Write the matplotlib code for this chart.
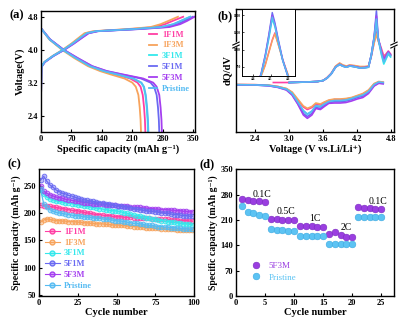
"""
Four panel electrochemistry figure: charge/discharge, dQ/dV, cycling and rate capability
"""
import matplotlib
matplotlib.use('Agg')
import matplotlib.pyplot as plt
from matplotlib.colors import to_rgba
from matplotlib.lines import Line2D

plt.rcParams['font.family'] = ['Liberation Serif', 'DejaVu Serif']
plt.rcParams['font.weight'] = 'bold'
plt.rcParams['axes.labelweight'] = 'bold'

SAMPLES = ['1F1M', '1F3M', '3F1M', '5F1M', '5F3M', 'Pristine']
COLORS = ['#ff3fa4', '#f7a35c', '#33e8ec', '#6a6af2', '#a53ff0', '#55bbf2']

# ---- (a) charge / discharge profiles ----
dis_volt = [4.52, 4.25, 4.0, 3.8, 3.6, 3.48, 3.4, 3.3, 3.2, 3.1, 2.9, 2.6, 2.3, 2.0]
dis_1f1m = [0, 20, 50, 80, 112, 142, 170, 205, 222, 229, 234, 237, 239, 240]
dis_1f3m = [0, 19, 48, 76, 108, 136, 160, 192, 210, 218, 224, 227, 229, 230]
dis_3f1m = [0, 20, 50, 80, 113, 145, 175, 212, 230, 236, 240, 243, 245, 246]
dis_5f1m = [0, 21, 52, 83, 117, 150, 185, 230, 252, 260, 266, 269, 271, 272]
dis_5f3m = [0, 21, 52, 84, 118, 152, 188, 235, 258, 266, 272, 275, 277, 278]
dis_prist = [0, 20, 50, 80, 113, 145, 176, 212, 231, 237, 241, 244, 246, 247]

chg_volt = [2.75, 3.58, 3.7, 3.85, 4.0, 4.15, 4.3, 4.4, 4.45, 4.5, 4.55, 4.62, 4.7, 4.8]
chg_1f1m = [0, 1, 8, 28, 52, 72, 90, 103, 125, 205, 262, 285, 303, 327]
chg_1f3m = [0, 1, 8, 27, 50, 70, 88, 100, 120, 198, 252, 275, 293, 315]
chg_3f1m = [0, 1, 8, 28, 52, 73, 92, 106, 128, 215, 278, 305, 322, 343]
chg_5f1m = [0, 1, 9, 29, 54, 75, 95, 108, 130, 220, 288, 314, 330, 349]
chg_5f3m = [0, 1, 9, 29, 54, 76, 96, 110, 132, 225, 295, 320, 336, 353]
chg_prist = [0, 1, 8, 28, 52, 73, 92, 105, 127, 213, 276, 304, 321, 343]

# ---- (b) dQ/dV (arbitrary units) ----
dqdv_dis_volt = [2.06, 2.4, 2.64, 2.8, 2.95, 3.05, 3.15, 3.25, 3.32, 3.4, 3.47, 3.55,
                 3.62, 3.7, 3.8, 3.9, 4.0, 4.1, 4.2, 4.3, 4.4, 4.5, 4.58, 4.66]
dqdv_dis_1f1m = [47.5, 47.3, 46.8, 45.5, 43.3, 39.5, 32, 25, 22.5, 24.5, 28, 27,
                 29.5, 31.5, 32.5, 32.5, 33, 34, 36, 38, 41.5, 48, 50, 49.5]
dqdv_dis_1f3m = [47.5, 47.3, 46.8, 45.5, 43.5, 40, 33, 26, 23.7, 25.5, 29, 28,
                 30, 32, 33, 33, 33.5, 34.5, 36.5, 38.5, 42, 48.5, 50.5, 50]
dqdv_dis_3f1m = [47.3, 47.1, 46.5, 45, 42.8, 38.5, 30, 21, 17.7, 20.5, 26, 25,
                 27.5, 30, 31, 31, 31.5, 33, 35, 36.5, 40, 47, 49.5, 49]
dqdv_dis_5f1m = [47.2, 47, 46.3, 44.8, 42.3, 37.5, 28.5, 18.5, 15.5, 18.5, 24.5, 23.5,
                 26.5, 29.5, 30.2, 30.2, 31, 32.5, 34.5, 36, 39.5, 46.5, 49, 48.5]
dqdv_dis_5f3m = [47.2, 47, 46.2, 44.6, 42, 37, 28, 17, 13.7, 17, 23.5, 22.5,
                 25.5, 28.7, 29, 29, 29.5, 31, 33, 34.5, 38.5, 46, 48.7, 48.2]
dqdv_dis_prist = [47.3, 47.1, 46.5, 45, 42.8, 38.5, 30, 21.5, 18, 21, 26.5, 25.5,
                  28, 30.5, 31.5, 31.5, 32, 33.5, 35.5, 37, 40.5, 47.5, 50, 49.5]

dqdv_chg_volt = [2.72, 3.0, 3.3, 3.5, 3.6, 3.67, 3.74, 3.82, 3.89, 3.95, 4.01, 4.07, 4.15,
                 4.25, 4.33, 4.4, 4.45, 4.5, 4.54, 4.57, 4.6, 4.63, 4.67, 4.71, 4.75, 4.79]
dqdv_chg_1f1m = [49.5, 49.5, 50, 50.5, 51.5, 54.5, 58.5, 65.5, 68.5, 66.5, 65.5, 66.8, 66,
                 65, 65, 65.5, 76, 90, 100, 92, 88, 83, 76, 78, 81, 78]
dqdv_chg_1f3m = [None, 49.5, 50, 50.5, 51.5, 54.5, 58.5, 66, 69, 67, 66, 67, 66.5,
                 65.5, 65.5, 66, 76, 89, 98, 91, 87, 81, 74, 77, 80, 77]
dqdv_chg_3f1m = [None, 49.5, 50, 50.5, 51.5, 54, 58, 65, 67.5, 65.8, 64.8, 66, 65.3,
                 64, 64.2, 64.8, 77, 94, 110, 94, 85, 77, 68, 73, 78, 75]
dqdv_chg_5f1m = [None, 49.5, 50, 50.5, 51.5, 54, 58, 65, 67.7, 66, 65, 66.3, 65.5,
                 64.3, 64.5, 65, 77, 95, 121, 95, 87, 80, 72, 76, 80, 77]
dqdv_chg_5f3m = [None, 49.5, 50, 50.5, 51.5, 54, 58, 65, 67.6, 65.9, 64.9, 66.2, 65.4,
                 64.2, 64.4, 65, 77, 95, 116, 94, 87, 80, 73, 76.5, 80, 77]
dqdv_chg_prist = [None, 49.5, 50, 50.5, 51.5, 54, 58, 65, 67.5, 65.8, 64.8, 66, 65.3,
                  64, 64.2, 64.8, 77, 94, 113, 94, 86, 78, 70, 74, 79, 76]

inset_volt = [4.40, 4.445, 4.47, 4.49, 4.51, 4.525, 4.545, 4.57, 4.60, 4.63]
inset_1f1m = [300, 560, 800, 1050, 1300, 1440, 1200, 900, 590, 300]
inset_1f3m = [300, 550, 780, 1030, 1280, 1420, 1190, 890, 600, 300]
inset_3f1m = [300, 570, 940, 1310, 1720, 1560, 1240, 870, 560, 300]
inset_5f1m = [300, 600, 1000, 1400, 1850, 1650, 1300, 900, 560, 300]
inset_5f3m = [300, 590, 980, 1370, 1790, 1610, 1270, 880, 550, 300]
inset_prist = [300, 580, 960, 1340, 1760, 1590, 1260, 880, 560, 300]
inset_yticks = [750, 1100, 1450, 1800]
inset_xticks = [4.4, 4.5, 4.6]

# ---- (c) cycling, every second cycle ----
cycles = list(range(1, 101, 2))
cyc_1f1m = [214, 213, 213, 212, 211, 210, 209, 208, 207, 206,
            205, 204, 204, 202, 201, 200, 199, 198, 197, 197,
            196, 195, 195, 194, 193, 193, 193, 192, 192, 192,
            191, 191, 191, 190, 190, 190, 189, 189, 189, 188,
            188, 188, 187, 187, 187, 186, 186, 186, 185, 185]
cyc_1f3m = [183, 187, 189, 188, 187, 186, 186, 185, 185, 184,
            184, 184, 183, 183, 182, 182, 181, 181, 180, 180,
            180, 179, 179, 178, 178, 178, 177, 177, 176, 176,
            175, 175, 174, 174, 173, 173, 172, 172, 172, 171,
            171, 170, 170, 170, 169, 169, 169, 168, 168, 168]
cyc_3f1m = [242, 234, 229, 226, 224, 222, 221, 220, 219, 218,
            217, 216, 215, 214, 213, 212, 211, 210, 209, 208,
            207, 206, 205, 204, 204, 203, 202, 200, 199, 198,
            196, 195, 194, 192, 191, 190, 189, 188, 187, 186,
            185, 184, 184, 183, 182, 181, 180, 180, 179, 178]
cyc_5f1m = [260, 267, 258, 251, 247, 242, 239, 236, 235, 232,
            231, 229, 227, 226, 224, 223, 222, 221, 220, 219,
            218, 217, 216, 215, 214, 213, 212, 211, 210, 209,
            208, 207, 206, 205, 204, 203, 203, 202, 201, 200,
            199, 199, 198, 197, 197, 196, 195, 195, 194, 194]
cyc_5f3m = [250, 240, 236, 233, 231, 229, 228, 227, 225, 224,
            223, 222, 221, 220, 219, 219, 218, 217, 217, 216,
            216, 215, 215, 214, 214, 213, 213, 212, 212, 211,
            211, 210, 210, 209, 209, 208, 208, 207, 207, 206,
            206, 206, 205, 205, 204, 204, 203, 203, 202, 202]
cyc_prist = [243, 217, 210, 206, 203, 201, 200, 199, 198, 197,
             196, 195, 195, 194, 193, 192, 192, 191, 190, 190,
             189, 188, 188, 187, 186, 185, 185, 184, 183, 182,
             181, 181, 180, 179, 178, 177, 177, 176, 175, 175,
             174, 174, 173, 173, 172, 172, 171, 171, 170, 170]

# ---- (d) rate capability ----
rate_cycles = list(range(1, 26))
rate_5f3m = [267, 265, 263, 261, 258, 213, 212, 211, 211, 210,
             193, 192, 192, 191, 190, 172, 176, 168, 164, 164,
             245, 243, 242, 241, 240]
rate_prist = [247, 233, 228, 223, 222, 184, 182, 181, 180, 179,
              165, 165, 165, 165, 165, 143, 143, 143, 143, 143,
              218, 218, 218, 218, 218]
rate_labels = ['0.1C', '0.5C', '1C', '2C', '0.1C']
rate_label_x = [4.4, 8.6, 13.5, 19.0, 24.4]
rate_label_y = [281, 234, 213, 190, 262]


def _style_axes(ax):
    for sp in ax.spines.values():
        sp.set_linewidth(1.0)
    ax.tick_params(direction='in', length=2.5, width=0.8, labelsize=6, pad=2)
    for lab in ax.get_xticklabels() + ax.get_yticklabels():
        lab.set_fontweight('bold')


def panel_a(fig):
    ax = fig.add_axes([0.1017, 0.590, 0.382, 0.3758])
    dis = [dis_1f1m, dis_1f3m, dis_3f1m, dis_5f1m, dis_5f3m, dis_prist]
    chg = [chg_1f1m, chg_1f3m, chg_3f1m, chg_5f1m, chg_5f3m, chg_prist]
    for name, col, d, c in zip(SAMPLES, COLORS, dis, chg):
        ax.plot(c, chg_volt, color=col, lw=1.3)
        ax.plot(d, dis_volt, color=col, lw=1.3, label=name)
    ax.set_xlim(0, 354)
    ax.set_ylim(2.0, 4.94)
    ax.set_xticks([0, 70, 140, 210, 280, 350])
    ax.set_yticks([2.4, 3.2, 4.0, 4.8])
    ax.set_xlabel('Specific capacity (mAh g⁻¹)', fontsize=7.5, labelpad=1)
    ax.set_ylabel('Voltage(V)', fontsize=7.5, labelpad=2)
    ax.legend(loc='upper right', bbox_to_anchor=(1.0, 0.88), frameon=False,
              fontsize=6, handlelength=1.0, handletextpad=0.6, labelspacing=0.35,
              labelcolor='linecolor', borderaxespad=0.2)
    _style_axes(ax)


def _break_mark(ax, x, y):
    ax.plot([x - 0.012, x + 0.012], [y - 0.012, y + 0.012], transform=ax.transAxes,
            color='white', lw=3, clip_on=False, zorder=5)
    for dy in (-0.012, 0.012):
        ax.plot([x - 0.02, x + 0.02], [y + dy - 0.012, y + dy + 0.012],
                transform=ax.transAxes, color='k', lw=0.8, clip_on=False, zorder=6)


def panel_b(fig):
    ax = fig.add_axes([0.5856, 0.590, 0.392, 0.382])
    dis = [dqdv_dis_1f1m, dqdv_dis_1f3m, dqdv_dis_3f1m, dqdv_dis_5f1m, dqdv_dis_5f3m, dqdv_dis_prist]
    chg = [dqdv_chg_1f1m, dqdv_chg_1f3m, dqdv_chg_3f1m, dqdv_chg_5f1m, dqdv_chg_5f3m, dqdv_chg_prist]
    for col, d, c in zip(COLORS, dis, chg):
        pts = [(v, y) for v, y in zip(dqdv_chg_volt, c) if y is not None]
        ax.plot([p[0] for p in pts], [p[1] for p in pts], color=col, lw=1.2)
        ax.plot(dqdv_dis_volt, d, color=col, lw=1.2)
    ax.set_xlim(2.06, 4.85)
    ax.set_ylim(0, 123)
    ax.set_xticks([2.4, 3.0, 3.6, 4.2, 4.8])
    ax.set_yticks([])
    ax.set_xlabel('Voltage (V vs.Li/Li⁺)', fontsize=7.5, labelpad=1)
    ax.set_ylabel('dQ/dV', fontsize=7.5, labelpad=3)
    _style_axes(ax)
    _break_mark(ax, 0.0, 0.707)
    _break_mark(ax, 1.0, 0.707)

    ins = fig.add_axes([0.6005, 0.764, 0.1315, 0.208])
    inset = [inset_1f1m, inset_1f3m, inset_3f1m, inset_5f1m, inset_5f3m, inset_prist]
    for col, vals in zip(COLORS, inset):
        ins.plot(inset_volt, vals, color=col, lw=1.0)
    ins.set_xlim(4.337, 4.64)
    ins.set_ylim(568, 1921)
    ins.set_xticks(inset_xticks)
    ins.set_yticks(inset_yticks)
    ins.tick_params(direction='in', length=1.2, width=0.5, labelsize=2.5, pad=1)
    for sp in ins.spines.values():
        sp.set_linewidth(0.7)


def panel_c(fig):
    ax = fig.add_axes([0.0968, 0.0807, 0.3846, 0.394])
    data = dict(zip(SAMPLES, [cyc_1f1m, cyc_1f3m, cyc_3f1m, cyc_5f1m, cyc_5f3m, cyc_prist]))
    cmap = dict(zip(SAMPLES, COLORS))
    for name in ['1F3M', '1F1M', '3F1M', '5F3M', '5F1M', 'Pristine']:
        col = cmap[name]
        ax.plot(cycles, data[name], '-o', color=col, lw=0.9, ms=3.4,
                mfc=to_rgba(col, 0.45), mec=col, mew=0.6, clip_on=True)
    handles = [Line2D([], [], color=c, marker='o', lw=0.8, ms=3.5,
                      mfc=to_rgba(c, 0.45), mec=c) for c in COLORS]
    ax.legend(handles, SAMPLES, loc='lower left', frameon=False, fontsize=6,
              handlelength=1.8, handletextpad=0.5, labelspacing=0.35,
              labelcolor=COLORS, borderaxespad=0.3)
    ax.set_xlim(0, 100)
    ax.set_ylim(48, 280)
    ax.set_xticks([0, 25, 50, 75, 100])
    ax.set_yticks([50, 100, 150, 200, 250])
    ax.set_xlabel('Cycle number', fontsize=7.5, labelpad=1)
    ax.set_ylabel('Specific capacity (mAh g⁻¹)', fontsize=7, labelpad=2)
    _style_axes(ax)


def panel_d(fig):
    ax = fig.add_axes([0.5856, 0.0807, 0.392, 0.394])
    ax.plot(rate_cycles, rate_5f3m, 'o', color='#9a3ee0', ms=4.8, mec='#7a28c0', mew=0.4,
            label='5F3M')
    ax.plot(rate_cycles, rate_prist, 'o', color='#5cc3f3', ms=4.8, mec='#3aa8e0', mew=0.4,
            label='Pristine')
    for lab, x, y in zip(rate_labels, rate_label_x, rate_label_y):
        ax.text(x, y, lab, fontsize=7, fontweight='normal', ha='center', va='center')
    ax.legend(loc='lower left', bbox_to_anchor=(0.02, 0.05), frameon=False,
              handletextpad=0.4, labelspacing=0.35, labelcolor=['#9a3ee0', '#5cc3f3'],
              prop={'weight': 'normal', 'size': 6.5})
    ax.set_xlim(0, 27.2)
    ax.set_ylim(0, 350)
    ax.set_xticks([0, 5, 10, 15, 20, 25])
    ax.set_yticks([0, 70, 140, 210, 280, 350])
    ax.set_xlabel('Cycle number', fontsize=7.5, labelpad=1)
    ax.set_ylabel('Specific capacity (mAh g⁻¹)', fontsize=7, labelpad=2)
    _style_axes(ax)


fig = plt.figure(figsize=(4.03, 3.22), dpi=100)
panel_a(fig)
panel_b(fig)
panel_c(fig)
panel_d(fig)
fig.text(0.042, 0.953, '(a)', fontsize=9, fontweight='bold', ha='center', va='center')
fig.text(0.558, 0.948, '(b)', fontsize=9, fontweight='bold', ha='center', va='center')
fig.text(0.035, 0.49, '(c)', fontsize=9, fontweight='bold', ha='center', va='center')
fig.text(0.515, 0.49, '(d)', fontsize=9, fontweight='bold', ha='center', va='center')
fig.savefig('out.png', dpi=100)
plt.close(fig)
